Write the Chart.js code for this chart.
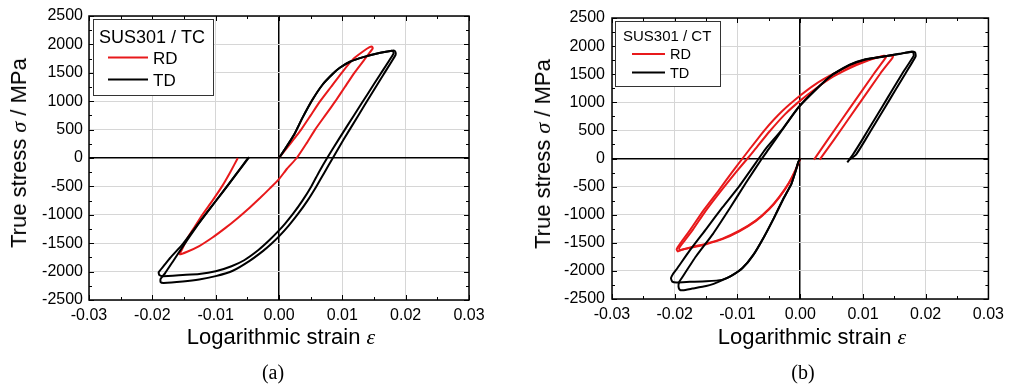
<!DOCTYPE html>
<html>
<head>
<meta charset="utf-8">
<script src="https://cdn.jsdelivr.net/npm/chart.js@4.4.1/dist/chart.umd.min.js"></script>
<style>
body { margin:0; width:1010px; height:388px; background:#fff; position:relative; overflow:hidden; font-family:"Liberation Sans", Arial, sans-serif; }
canvas { position:absolute; top:0; }
.lbl { position:absolute; white-space:nowrap; line-height:1; color:#000; transform:translate(-50%,-50%); }
.ytitle { transform:translate(-50%,-50%) rotate(-90deg); }
.axis { font-size:22px; }
.cap { font-family:"Liberation Serif","Times New Roman",serif; font-size:20px; }
.gr { font-family:"Liberation Serif","Times New Roman",serif; font-style:italic; }
</style>
</head>
<body>
<canvas id="chartTC" width="500" height="340" style="left:0"></canvas>
<canvas id="chartCT" width="505" height="340" style="left:505px"></canvas>

<div class="lbl axis ytitle" style="left:19px;top:153px">True stress <span class="gr">σ</span> / MPa</div>
<div class="lbl axis" style="left:281px;top:337px">Logarithmic strain <span class="gr">ε</span></div>
<div class="lbl cap" style="left:273px;top:372px">(a)</div>

<div class="lbl axis ytitle" style="left:543px;top:154px">True stress <span class="gr">σ</span> / MPa</div>
<div class="lbl axis" style="left:812px;top:337px">Logarithmic strain <span class="gr">ε</span></div>
<div class="lbl cap" style="left:803px;top:372px">(b)</div>

<script>
// tick values
const strainTicks = [-0.03, -0.02, -0.01, 0, 0.01, 0.02, 0.03];
const stressTicks = [-2500, -2000, -1500, -1000, -500, 0, 500, 1000, 1500, 2000, 2500];

// (a) SUS301 tension -> compression, [strain, stress MPa]
const tcRD = [
    [0,0],[0.0012,170],[0.0024,340],[0.0035,500],[0.005,750],[0.0065,1000],[0.0082,1250],[0.0099,1500],
    [0.0117,1740],[0.0132,1870],[0.0143,1950],[0.0147,1960],[0.0148,1930],
    [0.0134,1720],[0.0119,1500],[0.0104,1250],[0.0089,1000],[0.0073,750],[0.0057,500],[0.0043,250],[0.0028,0],
    [0.0013,-185],[0,-371],[-0.0014,-530],[-0.003,-705],[-0.0046,-870],[-0.0065,-1055],[-0.0085,-1235],
    [-0.0105,-1400],[-0.0126,-1550],[-0.0145,-1650],[-0.0157,-1695],
    [-0.0154,-1630],[-0.0145,-1420],[-0.0133,-1210],[-0.0121,-1000],[-0.0105,-750],[-0.009,-500],[-0.0077,-250],[-0.0065,0]
];
const tcTD1 = [
    [0,0],[0.0012,200],[0.0024,412],[0.0037,706],[0.0053,1029],[0.0069,1294],[0.0085,1482],[0.0096,1588],
    [0.0112,1694],[0.0133,1776],[0.016,1853],[0.0176,1885],[0.0182,1890],[0.0184,1860],[0.0184,1815],
    [0.0165,1470],[0.0145,1110],[0.0125,745],[0.0102,324],[0.0085,0],[0.0072,-250],[0.0059,-500],[0.0045,-750],
    [0.003,-985],[0.0015,-1195],[0,-1380],[-0.0012,-1510],[-0.0025,-1635],[-0.0047,-1815],[-0.0073,-1985],
    [-0.01,-2080],[-0.0126,-2141],[-0.0152,-2176],[-0.0182,-2200],[-0.0187,-2185],[-0.0187,-2130],
    [-0.018,-2030],[-0.0168,-1830],[-0.0152,-1560],[-0.0131,-1220],[-0.011,-905],[-0.0089,-600],[-0.0068,-290],[-0.0047,15]
];
const tcTD2 = [
    [0,0],[0.0012,200],[0.0024,412],[0.0037,706],[0.0053,1029],[0.0069,1294],[0.0085,1482],[0.0096,1588],
    [0.0112,1694],[0.0133,1776],[0.016,1853],[0.0176,1885],[0.018,1880],[0.0181,1840],
    [0.016,1475],[0.014,1128],[0.012,780],[0.0094,324],[0.0076,0],[0.0063,-250],[0.0051,-500],[0.0037,-750],
    [0.0022,-985],[0.001,-1150],[0,-1275],[-0.0015,-1445],[-0.0033,-1625],[-0.0055,-1800],[-0.0075,-1905],
    [-0.01,-1995],[-0.0126,-2043],[-0.0152,-2060],[-0.0183,-2080],[-0.0189,-2060],[-0.019,-2010],
    [-0.0182,-1900],[-0.0172,-1760],[-0.0152,-1517],[-0.0131,-1208],[-0.011,-904],[-0.0089,-601],[-0.0068,-292],[-0.0049,0]
];

// (b) SUS301 compression -> tension
const ctRD1 = [
    [0,0],[-0.0007,-190],[-0.0018,-430],[-0.0034,-690],[-0.005,-900],[-0.0071,-1105],[-0.0097,-1285],[-0.0124,-1425],
    [-0.015,-1515],[-0.0171,-1570],[-0.0189,-1625],[-0.0195,-1655],[-0.0197,-1615],[-0.0191,-1510],
    [-0.0175,-1265],[-0.0155,-935],[-0.013,-570],[-0.011,-265],[-0.0092,0],[-0.0081,160],[-0.0056,515],
    [-0.0029,840],[0,1120],[0.0024,1320],[0.0051,1495],[0.0078,1640],[0.0104,1745],[0.0126,1805],
    [0.0142,1830],[0.0148,1822],[0.0147,1790],[0.0128,1517],[0.0091,927],[0.0054,336],[0.0031,-20]
];
const ctRD2 = [
    [0,0],[-0.0007,-200],[-0.0018,-440],[-0.0034,-700],[-0.005,-910],[-0.0071,-1115],[-0.0097,-1295],[-0.0124,-1435],
    [-0.015,-1525],[-0.0171,-1580],[-0.0186,-1615],[-0.0192,-1635],[-0.0193,-1595],[-0.0187,-1500],
    [-0.0171,-1265],[-0.0151,-935],[-0.0126,-570],[-0.0103,-250],[-0.0084,0],[-0.0073,150],[-0.0049,480],
    [-0.0024,790],[0,1030],[0.0026,1255],[0.0053,1460],[0.008,1615],[0.0105,1730],[0.0124,1800],
    [0.0133,1828],[0.0137,1818],[0.0136,1790],[0.0118,1517],[0.0081,927],[0.0044,336],[0.0022,-20]
];
const ctTD1 = [
    [0,0],[-0.0003,-60],[-0.0008,-250],[-0.0014,-450],[-0.0027,-720],[-0.0042,-1060],[-0.0058,-1400],[-0.0075,-1720],
    [-0.0092,-1950],[-0.011,-2090],[-0.0125,-2160],[-0.015,-2185],[-0.0176,-2195],[-0.0197,-2205],[-0.0204,-2190],
    [-0.0206,-2130],[-0.0203,-2060],[-0.0197,-1970],[-0.0176,-1635],[-0.015,-1255],[-0.0124,-870],[-0.0097,-490],
    [-0.0066,0],[-0.0056,160],[-0.0029,515],[-0.0003,910],[0.0024,1220],[0.0051,1490],[0.0078,1665],[0.0104,1765],
    [0.0131,1812],[0.0158,1860],[0.0176,1895],[0.018,1888],[0.0181,1830],
    [0.0163,1517],[0.0147,1222],[0.0131,927],[0.0115,632],[0.0099,336],[0.0084,70],[0.0075,-70]
];
const ctTD2 = [
    [0,0],[-0.0003,-60],[-0.0008,-250],[-0.0014,-450],[-0.0027,-720],[-0.0042,-1060],[-0.0058,-1400],[-0.0075,-1720],
    [-0.0092,-1950],[-0.011,-2090],[-0.0125,-2170],[-0.0138,-2230],[-0.015,-2270],[-0.0172,-2315],[-0.0187,-2345],
    [-0.0192,-2335],[-0.0194,-2280],[-0.0193,-2200],[-0.0189,-2130],[-0.0166,-1740],[-0.0139,-1340],[-0.0113,-900],
    [-0.0087,-440],[-0.0061,0],[-0.005,170],[-0.0028,520],[-0.0003,905],[0.0024,1215],[0.0051,1485],[0.0078,1660],
    [0.0104,1762],[0.0131,1812],[0.0158,1862],[0.0178,1905],[0.0183,1890],[0.0184,1820],
    [0.0168,1517],[0.0152,1222],[0.0136,927],[0.012,632],[0.0104,336],[0.0089,70],[0.0078,-20]
];

const RED = '#e8191b';
const BLACK = '#000000';

Chart.defaults.font.family = "'Liberation Sans', Arial, sans-serif";
Chart.defaults.color = '#000';

// frame + inward major/minor ticks on all four sides
const frameTicks = {
    id: 'frameTicks',
    afterDatasetsDraw(chart) {
        const { ctx, chartArea: a, scales: { x, y } } = chart;
        ctx.save();
        ctx.strokeStyle = '#000';
        ctx.lineWidth = 1;
        ctx.beginPath();
        strainTicks.forEach((v, i) => {
            const px = Math.round(x.getPixelForValue(v)) + 0.5;
            ctx.moveTo(px, a.bottom); ctx.lineTo(px, a.bottom - 5);
            ctx.moveTo(px, a.top); ctx.lineTo(px, a.top + 5);
            if (i < strainTicks.length - 1) {
                const mx = Math.round(x.getPixelForValue((v + strainTicks[i + 1]) / 2)) + 0.5;
                ctx.moveTo(mx, a.bottom); ctx.lineTo(mx, a.bottom - 3);
                ctx.moveTo(mx, a.top); ctx.lineTo(mx, a.top + 3);
            }
        });
        stressTicks.forEach((v, i) => {
            const py = Math.round(y.getPixelForValue(v)) + 0.5;
            ctx.moveTo(a.left, py); ctx.lineTo(a.left + 5, py);
            ctx.moveTo(a.right, py); ctx.lineTo(a.right - 5, py);
            if (i < stressTicks.length - 1) {
                const my = Math.round(y.getPixelForValue((v + stressTicks[i + 1]) / 2)) + 0.5;
                ctx.moveTo(a.left, my); ctx.lineTo(a.left + 3, my);
                ctx.moveTo(a.right, my); ctx.lineTo(a.right - 3, my);
            }
        });
        ctx.stroke();
        ctx.lineWidth = 1.5;
        ctx.strokeRect(a.left, a.top, a.right - a.left, a.bottom - a.top);
        ctx.restore();
    }
};

// boxed legend with a title line, drawn inside the plot
const boxLegend = {
    id: 'boxLegend',
    afterDraw(chart, args, o) {
        const { ctx, chartArea: a } = chart;
        const bx = a.left + o.box[0], by = a.top + o.box[1];
        ctx.save();
        ctx.fillStyle = '#fff';
        ctx.fillRect(bx, by, o.box[2], o.box[3]);
        ctx.strokeStyle = '#333';
        ctx.lineWidth = 1;
        ctx.strokeRect(bx + 0.5, by + 0.5, o.box[2], o.box[3]);
        ctx.fillStyle = '#000';
        ctx.textBaseline = 'alphabetic';
        ctx.font = o.titleSize + "px 'Liberation Sans', Arial, sans-serif";
        ctx.fillText(o.title, bx + o.titleX, by + o.titleY);
        ctx.font = o.entrySize + "px 'Liberation Sans', Arial, sans-serif";
        o.rows.forEach(r => {
            ctx.strokeStyle = r.color;
            ctx.lineWidth = 2;
            ctx.beginPath();
            ctx.moveTo(bx + o.lineX[0], by + r.lineY);
            ctx.lineTo(bx + o.lineX[1], by + r.lineY);
            ctx.stroke();
            ctx.fillStyle = '#000';
            ctx.fillText(r.label, bx + o.textX, by + r.base);
        });
        ctx.restore();
    }
};

function toXY(arr) {
    return arr.map(p => ({ x: p[0], y: p[1] }));
}

function makeSeries(arr, color) {
    return {
        data: toXY(arr),
        showLine: true,
        borderColor: color,
        backgroundColor: color,
        borderWidth: 2,
        pointRadius: 0,
        tension: 0.15,
        fill: false
    };
}

function makeChart(id, series, cfg) {
    const ctx = document.getElementById(id).getContext('2d');
    return new Chart(ctx, {
        type: 'scatter',
        data: { datasets: series },
        options: {
            responsive: false,
            animation: false,
            layout: { padding: cfg.padding },
            scales: {
                x: {
                    type: 'linear',
                    min: -0.03, max: 0.03,
                    afterBuildTicks: s => { s.ticks = strainTicks.map(v => ({ value: v })); },
                    afterFit: s => { s.height = cfg.xHeight; },
                    ticks: {
                        callback: v => v.toFixed(2),
                        font: { size: 16 },
                        color: '#000',
                        padding: 6,
                        maxRotation: 0,
                        autoSkip: false
                    },
                    grid: {
                        drawTicks: false,
                        color: c => (c.tick && Math.abs(c.tick.value) < 1e-9) ? '#000' : '#d6d6d6',
                        lineWidth: c => (c.tick && Math.abs(c.tick.value) < 1e-9) ? 1.5 : 1
                    },
                    border: { display: false }
                },
                y: {
                    type: 'linear',
                    min: -2500, max: 2500,
                    afterBuildTicks: s => { s.ticks = stressTicks.map(v => ({ value: v })); },
                    afterFit: s => { s.width = cfg.yWidth; },
                    ticks: {
                        callback: v => String(v),
                        font: { size: 16 },
                        color: '#000',
                        padding: cfg.yPad,
                        autoSkip: false
                    },
                    grid: {
                        drawTicks: false,
                        color: c => (c.tick && c.tick.value === 0) ? '#000' : '#d6d6d6',
                        lineWidth: c => (c.tick && c.tick.value === 0) ? 1.5 : 1
                    },
                    border: { display: false }
                }
            },
            plugins: {
                legend: { display: false },
                tooltip: { enabled: false },
                boxLegend: cfg.legend
            }
        },
        plugins: [frameTicks, boxLegend]
    });
}

makeChart('chartTC', [
    makeSeries(tcTD1, BLACK),
    makeSeries(tcTD2, BLACK),
    makeSeries(tcRD, RED)
], {
    padding: { left: 0, top: 16, right: 31, bottom: 0 },
    xHeight: 40, yWidth: 89, yPad: 6,
    legend: {
        title: 'SUS301 / TC', box: [4, 3, 120, 76],
        titleSize: 18, titleX: 6, titleY: 23.5,
        entrySize: 17, lineX: [15, 55], textX: 60,
        rows: [
            { label: 'RD', color: RED, lineY: 38.5, base: 45 },
            { label: 'TD', color: BLACK, lineY: 60.5, base: 67 }
        ]
    }
});

makeChart('chartCT', [
    makeSeries(ctTD1, BLACK),
    makeSeries(ctTD2, BLACK),
    makeSeries(ctRD1, RED),
    makeSeries(ctRD2, RED)
], {
    padding: { left: 0, top: 18, right: 19, bottom: 0 },
    xHeight: 41, yWidth: 107, yPad: 7,
    legend: {
        title: 'SUS301 / CT', box: [3, 3, 105, 65],
        titleSize: 15, titleX: 8, titleY: 19.5,
        entrySize: 14.5, lineX: [17, 50], textX: 55,
        rows: [
            { label: 'RD', color: RED, lineY: 33, base: 37.5 },
            { label: 'TD', color: BLACK, lineY: 51.5, base: 56.5 }
        ]
    }
});
</script>
</body>
</html>
